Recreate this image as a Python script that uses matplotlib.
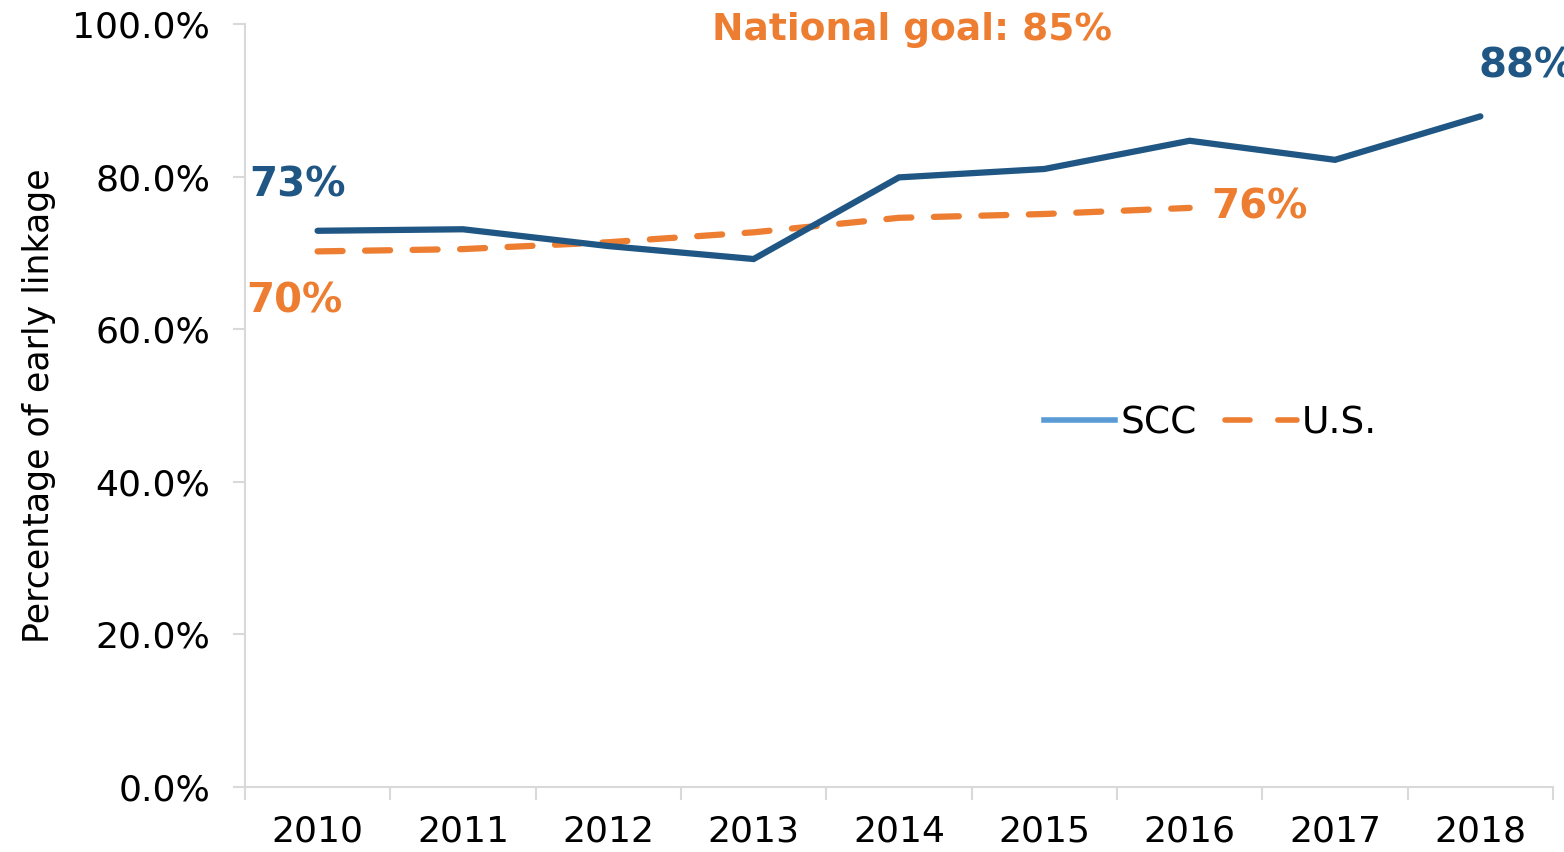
import matplotlib
matplotlib.use("Agg")
import matplotlib.pyplot as plt
from matplotlib.lines import Line2D
import numpy as np

years = ["2010", "2011", "2012", "2013", "2014", "2015", "2016", "2017", "2018"]
scc = [72.9, 73.1, 70.9, 69.2, 79.9, 81.0, 84.7, 82.2, 87.9]
us = [70.2, 70.5, 71.4, 72.7, 74.6, 75.1, 75.9]

dark_blue = "#1F5684"
orange = "#ED7D31"
light_blue = "#5B9BD5"
grid_gray = "#D9D9D9"

plt.rcParams["font.family"] = ["DejaVu Sans"]

fig = plt.figure(figsize=(15.64, 8.52), dpi=100)
ax = fig.add_axes([0.1566, 0.0763, 0.993 - 0.1566, 0.9718 - 0.0763])

x = np.arange(len(years))
ax.plot(x, scc, color=dark_blue, lw=4.5, solid_capstyle="round", solid_joinstyle="miter", zorder=3)
ax.plot(x[:len(us)], us, color=orange, lw=4.5, dashes=(4, 3.6), dash_capstyle="round", zorder=2)

ax.set_xlim(-0.5, len(years) - 0.5)
ax.set_ylim(0, 100)

# category ticks between years
ax.set_xticks(np.arange(-0.5, len(years)), minor=True)
ax.set_xticks(x)
ax.set_xticklabels(years, fontsize=26)
ax.tick_params(axis="x", which="major", length=0, pad=20)
ax.tick_params(axis="x", which="minor", length=9.5, width=1.5, color=grid_gray)

ax.set_yticks(np.arange(0, 101, 20))
ax.set_yticklabels([f"{v:.1f}%" for v in np.arange(0, 101, 20)], fontsize=26)
ax.tick_params(axis="y", length=9, width=1.5, color=grid_gray, pad=16)

for side in ["top", "right"]:
    ax.spines[side].set_visible(False)
for side in ["left", "bottom"]:
    ax.spines[side].set_color(grid_gray)
    ax.spines[side].set_linewidth(1.5)

ax.set_ylabel("Percentage of early linkage", fontsize=25, labelpad=12)

# data labels
bold = dict(fontsize=29, fontweight="bold", va="center", clip_on=False)
ax.text(-0.47, 78.9, "73%", color=dark_blue, ha="left", **bold)
ax.text(-0.49, 63.6, "70%", color=orange, ha="left", **bold)
ax.text(6.15, 75.9, "76%", color=orange, ha="left", **bold)
ax.text(7.99, 94.4, "88%", color=dark_blue, ha="left", **bold)
ax.text(4.09, 99.2, "National goal: 85%", color=orange, ha="center",
        fontsize=27, fontweight="bold", va="center", clip_on=False)

handles = [
    Line2D([], [], color=light_blue, lw=4),
    Line2D([], [], color=orange, lw=4, dashes=(4.5, 5.0), dash_capstyle="round"),
]
ax.legend(handles, ["SCC", "U.S."], frameon=False, ncol=2, fontsize=27,
          loc="center left", bbox_to_anchor=(0.585, 0.477),
          handlelength=1.9, handletextpad=0.15, columnspacing=0.75)

fig.savefig("out.png", dpi=100)
